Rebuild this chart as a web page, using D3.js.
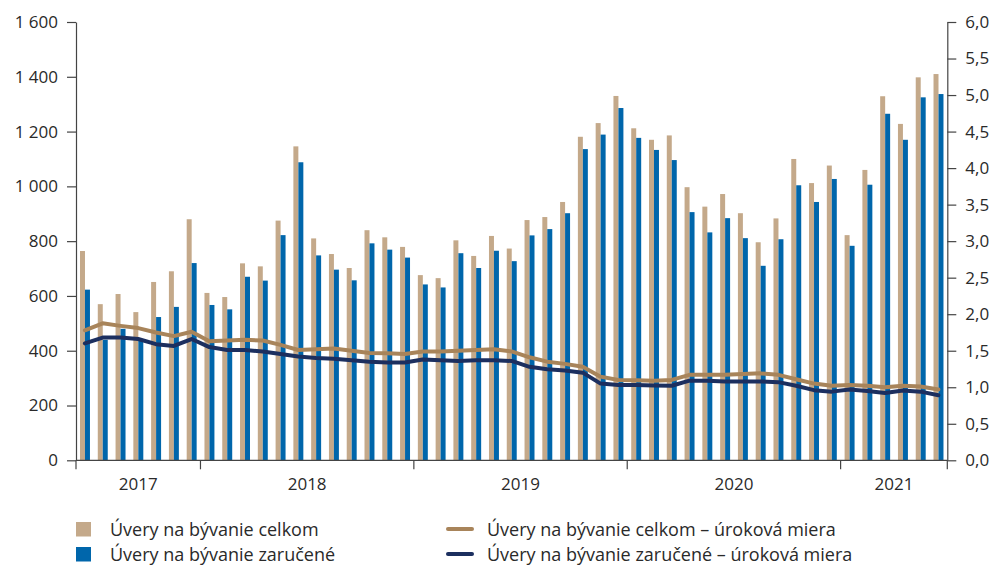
<!DOCTYPE html>
<html>
<head>
<meta charset="utf-8">
<script src="https://cdn.jsdelivr.net/npm/d3@7/dist/d3.min.js"></script>
<style>
  html, body { margin: 0; padding: 0; background: #fff; }
  svg { display: block; font-family: "Open Sans", "Noto Sans", sans-serif; }
</style>
</head>
<body>
<svg id="chart" width="997" height="566"></svg>
<script>
const months = [
  "2017-06","2017-07","2017-08","2017-09","2017-10","2017-11","2017-12",
  "2018-01","2018-02","2018-03","2018-04","2018-05","2018-06","2018-07","2018-08","2018-09","2018-10","2018-11","2018-12",
  "2019-01","2019-02","2019-03","2019-04","2019-05","2019-06","2019-07","2019-08","2019-09","2019-10","2019-11","2019-12",
  "2020-01","2020-02","2020-03","2020-04","2020-05","2020-06","2020-07","2020-08","2020-09","2020-10","2020-11","2020-12",
  "2021-01","2021-02","2021-03","2021-04","2021-05","2021-06"
];
const years = ["2017", "2018", "2019", "2020", "2021"];

const celkom = [764,570,607,541,651,690,880,
  611,596,719,708,875,1146,810,753,702,840,814,779,
  676,665,803,746,819,773,877,888,943,1181,1231,1330,
  1212,1170,1186,997,926,972,902,796,883,1100,1012,1076,
  822,1060,1329,1228,1398,1410];
const zarucene = [623,440,480,440,523,560,720,
  567,551,670,656,822,1088,748,696,657,792,769,740,
  642,631,756,702,765,727,821,844,902,1136,1189,1286,
  1177,1133,1096,906,832,884,811,710,807,1004,943,1027,
  783,1006,1265,1170,1325,1337];
const sadzbaCelkom = [1.78,1.875,1.84,1.81,1.75,1.70,1.76,
  1.63,1.64,1.65,1.64,1.58,1.51,1.52,1.53,1.50,1.47,1.465,1.455,
  1.49,1.49,1.50,1.51,1.52,1.49,1.41,1.35,1.32,1.28,1.145,1.10,
  1.095,1.09,1.10,1.17,1.17,1.17,1.18,1.19,1.17,1.11,1.05,1.02,
  1.03,1.02,1.00,1.02,1.01,0.97];
const sadzbaZarucene = [1.60,1.68,1.68,1.66,1.59,1.565,1.66,
  1.55,1.51,1.51,1.49,1.455,1.42,1.40,1.39,1.37,1.35,1.34,1.34,
  1.38,1.37,1.36,1.37,1.37,1.36,1.28,1.245,1.23,1.20,1.05,1.03,
  1.03,1.025,1.02,1.09,1.09,1.08,1.08,1.08,1.07,1.02,0.96,0.94,
  0.97,0.95,0.92,0.955,0.94,0.89];

const leftTicks = [0,200,400,600,800,1000,1200,1400,1600];
const rightTicks = [0,0.5,1,1.5,2,2.5,3,3.5,4,4.5,5,5.5,6];

const seriesNames = ["Úvery na bývanie celkom", "Úvery na bývanie zaručené"];
const lineNames = ["Úvery na bývanie celkom – úroková miera", "Úvery na bývanie zaručené – úroková miera"];
const barColors = ["#C4A98A", "#0066AB"];
const lineColors = ["#A8845A", "#1C2F5F"];

const svg = d3.select("#chart");
const L = 76, R = 947.3, T = 22, B = 460.3;
const textColor = "#2a2a2a", axisColor = "#444";
const FONT = "'Open Sans', 'Noto Sans', sans-serif";

const x = d3.scaleBand().domain(months).range([L, R]).padding(0);
const xs = d3.scaleBand().domain([0, 1]).range([x.bandwidth() * 0.225, x.bandwidth() * 0.785]).padding(0);
const y = d3.scaleLinear().domain([0, 1600]).range([B, T]);
const y2 = d3.scaleLinear().domain([0, 6]).range([B, T]);

// bars
const barData = [celkom, zarucene];
barData.forEach((arr, si) => {
  svg.append("g").selectAll("rect").data(arr).join("rect")
    .attr("x", (d, i) => x(months[i]) + xs(si))
    .attr("y", d => y(d))
    .attr("width", xs.bandwidth())
    .attr("height", d => B - y(d))
    .attr("fill", barColors[si]);
});

// lines
[sadzbaCelkom, sadzbaZarucene].forEach((arr, si) => {
  const line = d3.line()
    .x((d, i) => x(months[i]) + x.bandwidth() / 2)
    .y(d => y2(d));
  svg.append("path").datum(arr)
    .attr("d", line)
    .attr("fill", "none")
    .attr("stroke", lineColors[si])
    .attr("stroke-width", 4)
    .attr("stroke-linejoin", "round")
    .attr("stroke-linecap", "round");
});

// left axis
const fmtL = d => d3.format(",")(d).replace(/,/g, " ");
const gl = svg.append("g").attr("transform", `translate(${L},0)`)
  .call(d3.axisLeft(y).tickValues(leftTicks).tickFormat(fmtL).tickSize(9).tickPadding(9).tickSizeOuter(0));
// right axis
const fmtR = d => d3.format(".1f")(d).replace(".", ",");
const gr = svg.append("g").attr("transform", `translate(${R},0)`)
  .call(d3.axisRight(y2).tickValues(rightTicks).tickFormat(fmtR).tickSize(9).tickPadding(9).tickSizeOuter(0));
[gl, gr].forEach(g => {
  g.selectAll("path.domain").attr("stroke", axisColor).attr("stroke-width", 1.2);
  g.selectAll(".tick line").attr("stroke", axisColor).attr("stroke-width", 1.2);
  g.selectAll(".tick text").attr("fill", textColor).style("font-size", "17px").style("font-family", FONT);
});

// baseline
svg.append("line").attr("x1", L).attr("x2", R).attr("y1", B).attr("y2", B)
  .attr("stroke", axisColor).attr("stroke-width", 1.2);

// year ticks & labels
const yearStarts = years.map(yr => months.findIndex(m => m.startsWith(yr)));
const boundaries = yearStarts.map(i => x(months[i])).concat([R]);
svg.append("g").selectAll("line").data(boundaries).join("line")
  .attr("x1", d => d).attr("x2", d => d)
  .attr("y1", B).attr("y2", B + 9)
  .attr("stroke", axisColor).attr("stroke-width", 1.2);
svg.append("g").selectAll("text").data(years).join("text")
  .attr("x", (d, i) => (boundaries[i] + boundaries[i + 1]) / 2)
  .attr("y", 490)
  .attr("text-anchor", "middle")
  .attr("fill", textColor)
  .style("font-size", "17px")
  .text(d => d);

// legend
const leg = svg.append("g");
seriesNames.forEach((name, i) => {
  const yy = 536 + i * 25;
  leg.append("rect").attr("x", 76).attr("y", yy - 14).attr("width", 15).attr("height", 14.5).attr("fill", barColors[i]);
  leg.append("text").attr("x", 110).attr("y", yy).attr("fill", textColor).style("font-size", "18px").text(name);
});
lineNames.forEach((name, i) => {
  const yy = 536 + i * 25;
  leg.append("line").attr("x1", 448).attr("x2", 472).attr("y1", yy - 7).attr("y2", yy - 7)
    .attr("stroke", lineColors[i]).attr("stroke-width", 4).attr("stroke-linecap", "round");
  leg.append("text").attr("x", 487).attr("y", yy).attr("fill", textColor).style("font-size", "18px").text(name);
});
</script>
</body>
</html>
